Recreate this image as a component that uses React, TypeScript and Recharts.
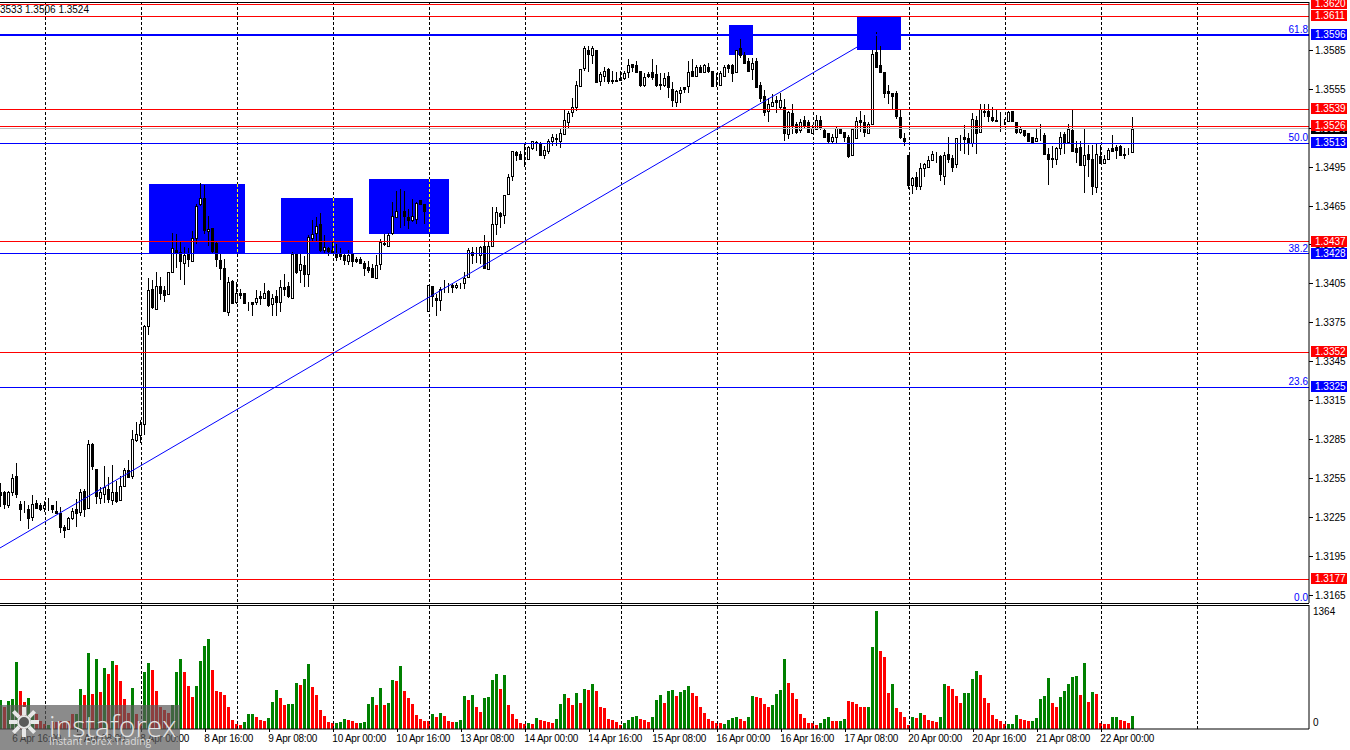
import React from 'react';
import { ComposedChart, Bar, XAxis, YAxis, ReferenceLine, ReferenceArea } from 'recharts';

type C = [number, number, number, number];
const FONT = '"Liberation Sans", Arial, sans-serif';

// Hourly candles, [open, high, low, close], in 1/10000 (3244 = 1.3244)
const candlesA: C[] = [
  [3244,3251,3233,3242],[3244,3245,3231,3235],[3234,3245,3232,3244],[3244,3258,3241,3255],[3257,3267,3240,3243],[3235,3237,3222,3231],
  [3232,3237,3228,3232],[3231,3234,3216,3224],[3225,3242,3222,3235],[3236,3238,3231,3232],[3234,3236,3230,3231],[3232,3237,3229,3234],
  [3232,3240,3230,3232],[3234,3234,3228,3231],[3230,3237,3227,3228],[3228,3233,3213,3217],[3217,3219,3209,3215],[3216,3225,3215,3224],
  [3224,3232,3223,3230],[3231,3239,3217,3228],[3229,3247,3226,3244],[3245,3247,3225,3231],[3232,3284,3231,3281],[3281,3282,3261,3264],
  [3262,3262,3235,3241],[3240,3248,3235,3244],[3243,3264,3236,3248],[3247,3256,3236,3239],[3238,3265,3234,3244],[3244,3253,3236,3237],
  [3238,3257,3237,3249],[3249,3263,3248,3261],[3261,3269,3255,3256],[3257,3292,3254,3285],[3284,3298,3283,3289],[3288,3300,3282,3297],
];
const candlesB: C[] = [
  [3297,3373,3288,3372],[3372,3409,3365,3400],[3401,3408,3385,3387],[3385,3414,3385,3403],[3403,3410,3392,3398],[3400,3403,3391,3396],
  [3397,3414,3397,3414],[3414,3444,3414,3432],[3431,3443,3417,3429],[3429,3437,3408,3422],[3421,3433,3404,3427],[3428,3432,3418,3424],
  [3422,3445,3422,3440],[3440,3466,3435,3465],[3466,3482,3465,3471],[3471,3481,3443,3446],[3445,3457,3434,3447],[3448,3448,3428,3430],
  [3436,3437,3418,3424],[3423,3428,3408,3417],[3417,3424,3383,3384],[3383,3410,3380,3406],[3407,3408,3389,3390],[3391,3406,3389,3398],
  [3398,3401,3393,3396],[3398,3398,3390,3390],[3389,3391,3384,3389],[3391,3391,3380,3389],[3391,3400,3388,3394],[3395,3399,3388,3394],
  [3394,3405,3394,3398],[3399,3400,3387,3388],[3389,3397,3380,3394],[3395,3400,3380,3391],[3391,3408,3383,3402],[3402,3412,3395,3401],
  [3403,3406,3394,3395],[3394,3429,3394,3428],[3428,3428,3412,3414],[3415,3428,3405,3420],[3419,3426,3402,3412],[3412,3442,3402,3441],
  [3440,3454,3437,3443],[3444,3456,3437,3449],[3451,3459,3429,3431],[3431,3442,3428,3433],[3432,3433,3426,3430],[3431,3437,3428,3429],
];
const candlesC: C[] = [
  [3428,3435,3422,3425],[3428,3432,3423,3426],[3427,3428,3419,3423],[3422,3431,3419,3427],[3428,3428,3418,3422],[3424,3425,3421,3422],
  [3424,3425,3420,3421],[3421,3422,3411,3417],[3418,3422,3413,3415],[3417,3420,3409,3410],[3409,3427,3409,3419],[3420,3439,3415,3437],
  [3435,3443,3434,3436],[3434,3444,3433,3442],[3444,3468,3442,3457],[3456,3476,3456,3461],[3460,3478,3448,3460],[3461,3476,3449,3457],
  [3456,3462,3447,3454],[3454,3470,3452,3457],[3455,3468,3451,3467],[3469,3469,3466,3466],[3466,3466,3451,3461],[3384,3404,3384,3404],
];
const candlesD: C[] = [
  [3403,3403,3387,3395],[3394,3397,3380,3392],[3392,3402,3384,3401],[3402,3408,3398,3402],[3403,3405,3398,3403],[3404,3405,3398,3402],
  [3402,3405,3401,3404],[3403,3405,3401,3403],[3405,3414,3401,3409],[3410,3432,3409,3431],[3429,3433,3420,3427],[3428,3433,3421,3428],
  [3427,3434,3420,3433],[3434,3442,3417,3417],[3416,3438,3415,3434],[3434,3464,3433,3451],[3451,3464,3442,3460],[3459,3460,3448,3457],
  [3458,3473,3451,3473],[3474,3489,3473,3487],[3488,3507,3484,3507],[3506,3507,3499,3504],[3505,3507,3500,3501],[3501,3513,3495,3501],
  [3501,3511,3500,3510],[3509,3515,3508,3515],[3514,3515,3507,3513],[3513,3514,3504,3504],[3504,3511,3501,3508],[3507,3516,3505,3515],
  [3515,3520,3511,3518],[3517,3520,3511,3516],[3515,3525,3509,3521],[3520,3539,3520,3531],[3529,3538,3524,3536],[3537,3548,3533,3541],
  [3541,3561,3538,3558],[3557,3570,3557,3570],[3571,3588,3569,3586],[3585,3588,3568,3582],[3581,3588,3574,3586],[3585,3585,3560,3560],
  [3561,3568,3557,3566],[3565,3572,3560,3569],[3570,3571,3559,3561],[3562,3569,3559,3561],[3562,3568,3560,3561],[3563,3569,3561,3562],
];
const candlesE: C[] = [
  [3563,3569,3562,3567],[3568,3578,3563,3573],[3574,3574,3568,3572],[3573,3576,3567,3568],[3569,3569,3556,3558],[3558,3567,3556,3564],
  [3566,3568,3563,3565],[3568,3578,3562,3564],[3566,3573,3556,3558],[3559,3567,3554,3558],[3558,3567,3556,3563],[3565,3568,3548,3556],
  [3555,3560,3541,3546],[3545,3554,3541,3553],[3552,3556,3544,3554],[3556,3556,3552,3555],[3557,3576,3552,3568],[3569,3578,3565,3565],
  [3565,3573,3565,3572],[3572,3573,3567,3568],[3568,3574,3567,3573],[3572,3575,3567,3569],[3569,3569,3556,3557],[3559,3567,3556,3559],
  [3558,3569,3558,3567],[3565,3573,3565,3572],[3573,3574,3567,3571],[3573,3574,3560,3567],[3568,3585,3567,3585],[3586,3593,3579,3581],
  [3581,3583,3574,3575],[3576,3579,3568,3569],[3570,3579,3562,3575],[3576,3579,3556,3556],[3558,3560,3545,3548],[3549,3554,3534,3537],
  [3538,3548,3529,3543],[3542,3551,3541,3545],[3546,3549,3536,3545],[3541,3552,3539,3546],[3541,3547,3515,3521],[3520,3538,3516,3537],
  [3536,3543,3520,3527],[3528,3529,3520,3522],[3523,3532,3521,3529],[3531,3534,3525,3527],[3529,3531,3521,3522],[3521,3527,3520,3525],
];
const candlesF: C[] = [
  [3524,3535,3523,3531],[3531,3534,3523,3525],[3523,3525,3518,3518],[3521,3521,3513,3515],[3515,3520,3513,3518],[3518,3526,3513,3525],
  [3525,3525,3520,3521],[3522,3522,3514,3518],[3518,3519,3502,3503],[3504,3525,3504,3524],[3517,3533,3517,3530],[3531,3538,3522,3529],
  [3529,3535,3518,3522],[3521,3529,3520,3528],[3528,3585,3527,3582],[3583,3599,3571,3572],[3573,3588,3567,3568],[3568,3568,3548,3552],
  [3553,3558,3543,3552],[3552,3552,3539,3549],[3552,3553,3532,3534],[3533,3539,3516,3518],[3517,3521,3511,3515],[3504,3504,3478,3481],
  [3481,3487,3474,3486],[3487,3491,3477,3480],[3480,3498,3477,3494],[3494,3498,3487,3497],[3495,3503,3495,3500],[3500,3507,3499,3505],
  [3504,3506,3498,3504],[3503,3504,3484,3489],[3488,3506,3481,3504],[3505,3518,3498,3501],[3502,3504,3491,3495],[3497,3517,3494,3517],
  [3516,3519,3507,3516],[3518,3527,3505,3516],[3517,3521,3504,3514],[3513,3536,3510,3532],[3531,3534,3505,3521],[3522,3543,3522,3539],
  [3538,3543,3533,3537],[3538,3543,3529,3534],[3533,3541,3529,3531],[3531,3539,3530,3530],[3530,3537,3522,3530],[3529,3532,3527,3529],
];
const candlesG: C[] = [
  [3530,3538,3529,3537],[3538,3538,3529,3530],[3529,3529,3520,3522],[3522,3526,3520,3524],[3523,3523,3518,3519],[3521,3521,3514,3515],
  [3518,3518,3514,3514],[3515,3525,3514,3517],[3518,3528,3515,3518],[3519,3521,3505,3505],[3505,3509,3481,3501],[3502,3511,3494,3501],
  [3501,3510,3496,3509],[3509,3522,3504,3518],[3520,3522,3505,3513],[3514,3528,3513,3524],[3523,3539,3507,3507],[3509,3515,3498,3506],
  [3510,3515,3496,3496],[3496,3524,3475,3504],[3505,3512,3487,3501],[3501,3512,3473,3480],[3479,3513,3475,3505],[3503,3512,3497,3498],
  [3498,3504,3498,3501],[3501,3509,3501,3508],[3509,3519,3507,3507],[3510,3512,3501,3508],[3511,3512,3504,3504],[3505,3509,3501,3504],
  [3506,3509,3504,3506],[3506,3533,3506,3524],
];
const candles: C[] = [...candlesA, ...candlesB, ...candlesC, ...candlesD, ...candlesE, ...candlesF, ...candlesG];

const volumesA = [330,253,319,342,774,435,307,354,175,175,97,58,51,78,78,97,78,97,175,175,459,389,878,400,808,424,704,634,785,739,552,342,190,470,175,78,657,762,680,435,253,214,190,272,657,808,657,494,365,494,785,960,1042,680,435,424,389,249,109,62,51,86,179,179,144,109,97,132,307,447];
const volumesB = [354,272,284,284,529,505,575,750,482,389,214,155,86,74,74,86,120,109,97,74,74,86,284,365,272,470,272,295,564,552,727,435,354,284,167,120,97,97,179,144,190,155,97,86,86,109,377,330,389,249,202,354,365,564,634,459,622,272,179,120,74,62,74,62,132,109,97,86,74,120];
const volumesC = [284,400,354,272,412,295,459,447,517,435,260,237,120,109,86,51,74,109,144,155,120,109,86,144,330,389,295,435,447,377,424,447,494,412,377,260,190,120,97,74,70,62,109,132,144,120,97,144,377,365,354,284,249,272,400,447,808,529,412,342,179,132,74,74,51,74,120,144,97,97];
const volumesD = [97,120,319,307,284,249,249,260,948,1364,902,832,412,517,237,202,144,51,144,132,190,167,109,97,86,144,517,494,459,377,295,412,412,575,669,622,354,295,167,120,97,62,62,62,167,120,109,97,97,132,342,377,587,295,249,365,435,517,599,610,389,762,307,424,400,74,62,62,144,144,109,97,74,155];
const volumes = [...volumesA, ...volumesB, ...volumesC, ...volumesD];
const volumeDirs = 'GRGGGRRGGR'+'RRGRRRRRRG'+'GRGRGRGRGR'+'RRRGRRGGRR'+'RRRGGGRRRG'+'GGGRRRRRRR'+'RGGGRRRGGG'+'RRGGGRGGRR'+'RRRRGGGRRR'+'GGGGRGRGGR'+'GRRRRRRRGR'+'GRRRGGGRGR'+'RGGGGRGRRR'+'RRGRGRRRRG'+'GGRRGRGRGR'+'RRRRRRGGGG'+'RRRGGGRGGR'+'GGGRRRRRRR'+'RGGGGRRGGR'+'RRRGGGGRRR'+'RRRRRGGGRR'+'GGRRRRRGGG'+'RRRGRRRRGR'+'GRRRRGGRRR'+'RGGGGRRRRR'+'RRGGGRRRGG'+'GGGRRGGGGG'+'RGRGRRRRGG'+'RRRG';

const xTickLabels = ['6 Apr 16:00','7 Apr 08:00','8 Apr 00:00','8 Apr 16:00','9 Apr 08:00','10 Apr 00:00','10 Apr 16:00','13 Apr 08:00','14 Apr 00:00','14 Apr 16:00','15 Apr 08:00','16 Apr 00:00','16 Apr 16:00','17 Apr 08:00','20 Apr 00:00','20 Apr 16:00','21 Apr 08:00','22 Apr 00:00'];
const xTickIndexes = xTickLabels.map((_, k) => 3 + 16 * k);
const gridIndexes = Array.from({ length: 13 }, (_, k) => 11 + 24 * k);

const redLevels = [1.362, 1.3611, 1.3539, 1.3526, 1.3437, 1.3352, 1.3177];
const blueLevels = [1.3596, 1.3513, 1.3428, 1.3325];
const fibNames = ['61.8', '50.0', '38.2', '23.6'];
const priceTicks = [1.3585,1.3555,1.3525,1.3495,1.3465,1.3435,1.3405,1.3375,1.3345,1.3315,1.3285,1.3255,1.3225,1.3195,1.3165];
const lastPrice = 1.3524;
const PRICE_MIN = 1.31588;
const PRICE_MAX = 1.36218;

// Marked zones [fromIndex, toIndex, lowPrice, highPrice]
const zones: [number, number, number, number][] = [
  [36.9, 60.9, 1.34277, 1.34816],
  [69.9, 87.9, 1.34284, 1.34708],
  [91.9, 111.9, 1.34431, 1.34855],
  [181.9, 187.9, 1.3581, 1.36041],
  [213.9, 224.9, 1.35848, 1.36103],
];
const trendStart = { x: -0.33, y: 1.32012 };
const trendEnd = { x: 214, y: 1.35872 };

const rows = candles.map((c, i) => ({
  i,
  o: 1 + c[0] / 10000,
  h: 1 + c[1] / 10000,
  l: 1 + c[2] / 10000,
  c: 1 + c[3] / 10000,
}));
const volRows = volumes.map((v, i) => ({ i, v, dir: volumeDirs[i] }));

const Candle = (p: any) => {
  const { x, y, width, height, payload } = p;
  const cx = Math.floor(x + width / 2) + 0.5;
  const k = height / (payload.h - payload.l);
  const top = Math.round(y + (payload.h - Math.max(payload.o, payload.c)) * k) + 0.5;
  const bot = Math.round(y + (payload.h - Math.min(payload.o, payload.c)) * k) + 0.5;
  const up = payload.c >= payload.o;
  return (
    <g shapeRendering="crispEdges">
      <line x1={cx} x2={cx} y1={Math.round(y)} y2={Math.round(y + height)} stroke="#000" />
      <rect x={cx - 1} y={top} width={2} height={bot - top} fill={up ? '#fff' : '#000'} stroke="#000" />
    </g>
  );
};

const VolBar = (p: any) => {
  const { x, y, width, height, payload } = p;
  const left = Math.floor(x + width / 2) - 1;
  return <rect x={left} y={Math.round(y)} width={3} height={Math.round(y + height) - Math.round(y)} fill={payload.dir === 'G' ? '#008000' : '#ff0000'} shapeRendering="crispEdges" />;
};

const key = (v: number) => v.toFixed(4);
const redSet = new Set(redLevels.map(key));
const blueSet = new Set(blueLevels.map(key));

const PriceTick = (p: any) => {
  const { y, payload } = p;
  const s = key(payload.value);
  const isRed = redSet.has(s);
  const isBlue = blueSet.has(s);
  const isLast = s === key(lastPrice);
  if (isRed || isBlue || isLast) {
    const bg = isLast ? '#000' : isRed ? '#ff0000' : '#0000ff';
    return (
      <g>
        <rect x={1311} y={Math.round(y) - 6} width={36} height={11} fill={bg} shapeRendering="crispEdges" />
        <text x={1315} y={Math.round(y) + 3} fontSize={10} fill="#fff" fontFamily={FONT}>{s}</text>
      </g>
    );
  }
  return (
    <g>
      <line x1={1309} x2={1313} y1={Math.round(y) + 0.5} y2={Math.round(y) + 0.5} stroke="#000" shapeRendering="crispEdges" />
      <text x={1315} y={Math.round(y) + 4} fontSize={10} fill="#000" fontFamily={FONT}>{s}</text>
    </g>
  );
};

const VolTick = (p: any) => {
  const { y, payload } = p;
  const yy = payload.value === 0 ? 726 - 604 : y + 4;
  return <text x={1313} y={yy} fontSize={10} fill="#000" fontFamily={FONT}>{payload.value}</text>;
};

const XTick = (p: any) => {
  const { x, y, payload } = p;
  const idx = xTickIndexes.indexOf(payload.value);
  return (
    <g>
      <line x1={Math.floor(x) + 0.5} x2={Math.floor(x) + 0.5} y1={y} y2={y + 3} stroke="#000" shapeRendering="crispEdges" />
      <text x={x - 1} y={y + 13} fontSize={10} fill="#000" fontFamily={FONT} textLength={xTickLabels[idx].length > 11 ? 54 : 49}>{xTickLabels[idx]}</text>
    </g>
  );
};

const fibLabel = (text: string, lift: number) => (p: any) => (
  <text x={1308} y={p.viewBox.y - lift} textAnchor="end" fontSize={10} fill="#0000ff" fontFamily={FONT}>{text}</text>
);

const gridSegments = () => {
  const out: React.ReactNode[] = [];
  gridIndexes.forEach((g) => {
    const hit = zones.find((z) => g > z[0] && g < z[1]);
    const seg = (a: number, b: number, color: string, k: string) => (
      <ReferenceLine key={k} segment={[{ x: g, y: a }, { x: g, y: b }]} stroke={color} strokeDasharray="3 2" shapeRendering="crispEdges" />
    );
    if (hit) {
      out.push(seg(PRICE_MAX, hit[3], '#000', `g${g}a`));
      out.push(seg(hit[3], hit[2], '#ffff00', `g${g}b`));
      out.push(seg(hit[2], PRICE_MIN, '#000', `g${g}c`));
    } else {
      out.push(seg(PRICE_MAX, PRICE_MIN, '#000', `g${g}`));
    }
  });
  return out;
};

export default function App() {
  const xDomain: [number, number] = [-0.333, 326.917];
  return (
    <div style={{ position: 'absolute', left: 0, top: 0, width: 1350, height: 750, background: '#fff', overflow: 'hidden' }}>
      <div style={{ position: 'absolute', left: 0, top: 0 }}>
        <ComposedChart width={1350} height={604} data={rows} margin={{ top: 2, right: 0, bottom: 1, left: 0 }}>
          <XAxis dataKey="i" type="number" domain={xDomain} allowDataOverflow hide ticks={[0, 1]} />
          <YAxis
            orientation="right"
            width={41}
            domain={[PRICE_MIN, PRICE_MAX]}
            allowDataOverflow
            ticks={[...priceTicks, lastPrice, ...blueLevels, ...redLevels]}
            interval={0}
            tick={PriceTick}
            tickLine={false}
            axisLine={{ stroke: '#000' }}
          />
          {zones.map((z, k) => (
            <ReferenceArea key={k} x1={z[0]} x2={z[1]} y1={z[2]} y2={z[3]} fill="#0000ff" fillOpacity={1} stroke="none" shapeRendering="crispEdges" />
          ))}
          {gridSegments()}
          <Bar dataKey={(d: any) => [d.l, d.h]} barSize={3} shape={Candle} isAnimationActive={false} />
          <ReferenceLine y={lastPrice} stroke="#c0c0c0" shapeRendering="crispEdges" />
          {redLevels.map((v) => (
            <ReferenceLine key={v} y={v} stroke="#ff0000" shapeRendering="crispEdges" />
          ))}
          {blueLevels.map((v, k) => (
            <ReferenceLine
              key={v}
              y={v}
              stroke="#0000ff"
              strokeWidth={v === 1.3596 ? 2 : 1}
              shapeRendering="crispEdges"
              label={fibLabel(fibNames[k], 2)}
            />
          ))}
          <ReferenceLine y={PRICE_MIN + 0.00002} stroke="none" label={fibLabel('0.0', 2)} />
          <ReferenceLine segment={[trendStart, trendEnd]} stroke="#0000ff" />
          <ReferenceLine y={PRICE_MAX} stroke="#000" shapeRendering="crispEdges" />
          <ReferenceLine y={PRICE_MIN} stroke="#000" shapeRendering="crispEdges" />
        </ComposedChart>
      </div>
      <div style={{ position: 'absolute', left: 0, top: 604 }}>
        <ComposedChart width={1350} height={146} data={volRows} margin={{ top: 1, right: 0, bottom: 0, left: 0 }}>
          <XAxis
            dataKey="i"
            type="number"
            domain={xDomain}
            allowDataOverflow
            ticks={xTickIndexes}
            interval={0}
            height={21}
            tick={XTick}
            tickSize={0}
            tickMargin={0}
            tickLine={false}
            axisLine={{ stroke: '#000' }}
          />
          <YAxis
            orientation="right"
            width={41}
            domain={[0, 1433]}
            allowDataOverflow
            ticks={[0, 1364]}
            interval={0}
            tick={VolTick}
            tickLine={false}
            axisLine={{ stroke: '#000' }}
          />
          {gridIndexes.map((g) => (
            <ReferenceLine key={g} x={g} stroke="#000" strokeDasharray="3 2" shapeRendering="crispEdges" />
          ))}
          <ReferenceLine y={1433} stroke="#000" shapeRendering="crispEdges" />
          <Bar dataKey="v" barSize={3} shape={VolBar} isAnimationActive={false} />
        </ComposedChart>
      </div>
      <div style={{ position: 'absolute', left: 0, top: 4, fontFamily: FONT, fontSize: 10, lineHeight: '12px', color: '#000', whiteSpace: 'pre' }}>
        3533 1.3506 1.3524
      </div>
      <div style={{ position: 'absolute', left: 0, top: 705, width: 180, height: 45, background: 'rgba(90,90,90,0.7)' }}>
        <svg width={48} height={45} style={{ position: 'absolute', left: 0, top: 0 }}>
          <g stroke="#e8e8e8" strokeWidth={4}>
            {[0, 45, 90, 135, 180, 225, 270, 315].map((a) => (
              <line key={a} x1={24 + 7 * Math.cos((a * Math.PI) / 180)} y1={17 + 7 * Math.sin((a * Math.PI) / 180)} x2={24 + 15 * Math.cos((a * Math.PI) / 180)} y2={17 + 15 * Math.sin((a * Math.PI) / 180)} />
            ))}
          </g>
          <circle cx={24} cy={17} r={6} fill="#5a5a5a" stroke="#e8e8e8" strokeWidth={2} />
        </svg>
        <div style={{ position: 'absolute', left: 49, top: 3, fontFamily: '"Open Sans", sans-serif', fontWeight: 300, fontSize: 28.5, lineHeight: '36px', color: '#e4e4e4', whiteSpace: 'pre' }}>instaforex</div>
        <div style={{ position: 'absolute', left: 49, top: 29, fontFamily: '"Open Sans", sans-serif', fontSize: 10.3, lineHeight: '14px', color: '#dcdcdc', whiteSpace: 'pre' }}>Instant Forex Trading</div>
      </div>
    </div>
  );
}
